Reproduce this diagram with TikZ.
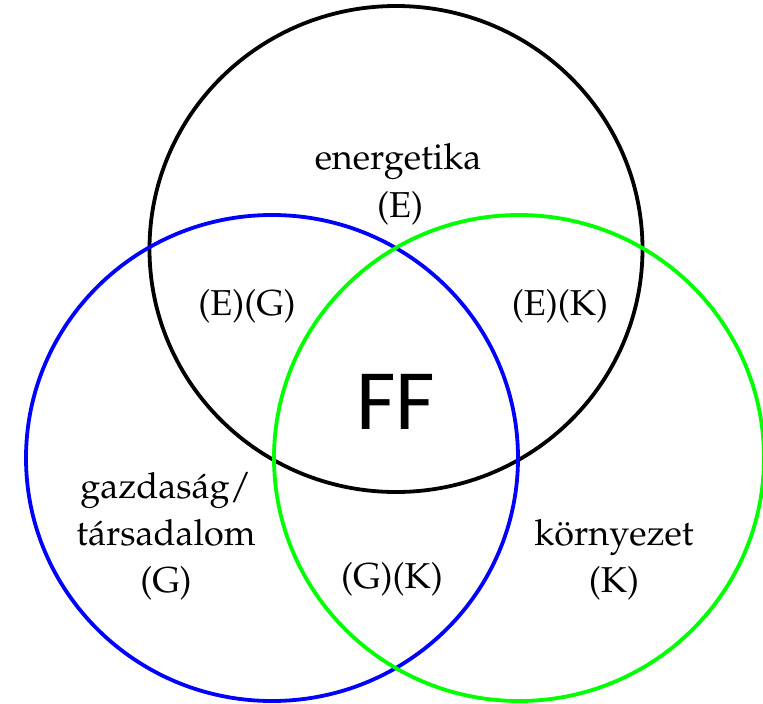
\documentclass[tikz,border=0pt]{standalone}
\usepackage[T1]{fontenc}
\usepackage{fontspec}
\newfontfamily\ffsans{Carlito}
\newcommand\palfont{\fontencoding{T1}\fontfamily{ppl}\fontseries{m}\fontshape{n}\fontsize{36}{42}\selectfont}
\begin{document}
\begin{tikzpicture}[x=1pt,y=-1pt,
  ring/.style={line width=3.8pt},
  lbl/.style={font=\palfont, anchor=base, inner sep=0pt},
  big/.style={font=\ffsans\fontsize{86}{90}\selectfont, anchor=center, inner sep=0pt}]
\useasboundingbox (0,0) rectangle (763,704);
\fill[white] (0,0) rectangle (763,704);
\coordinate (cE) at (396,249);
\coordinate (cG) at (272,458);
\coordinate (cK) at (519,458);
\draw[ring, black] (cE) ellipse [x radius=246.5, y radius=243];
\draw[ring, blue] (cG) ellipse [x radius=246, y radius=243];
\draw[ring, green] (cK) ellipse [x radius=245, y radius=243];
\node[lbl] (e1) at (398,169) {energetika};
\node[lbl] (e2) at (400,217) {(E)};
\node[lbl] (eg) at (247,315) {(E)(G)};
\node[lbl] (ek) at (560,315) {(E)(K)};
\node[big] (ff) at (396,402) {FF};
\node[lbl] (g1) at (166,498) {gazdas\'ag/};
\node[lbl] (g2) at (166,545) {t\'arsadalom};
\node[lbl] (g3) at (166,592) {(G)};
\node[lbl] (gk) at (392,588) {(G)(K)};
\node[lbl] (k1) at (614,545) {k\"ornyezet};
\node[lbl] (k2) at (614,592) {(K)};
\end{tikzpicture}
\end{document}
